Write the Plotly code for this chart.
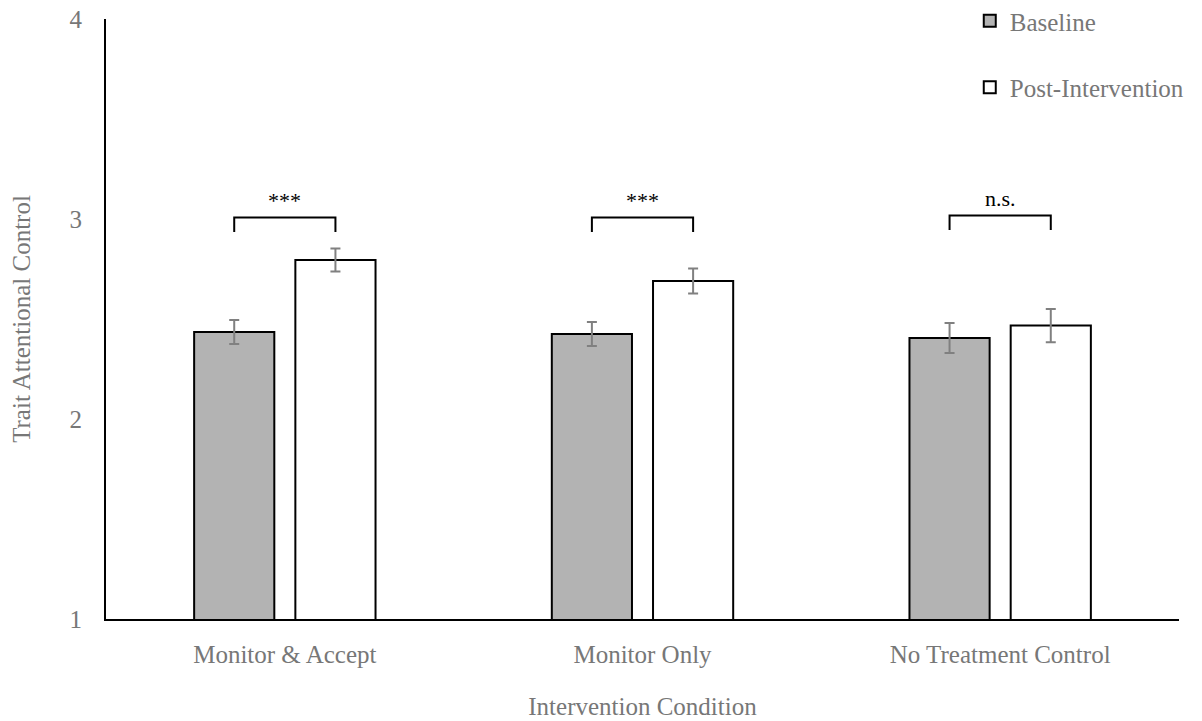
import plotly.graph_objects as go

categories = ["Monitor & Accept", "Monitor Only", "No Treatment Control"]
baseline = [2.435, 2.425, 2.405]
baseline_err = [0.06, 0.06, 0.075]
post = [2.795, 2.69, 2.467]
post_err = [0.058, 0.062, 0.083]
sig_labels = ["***", "***", "n.s."]
bracket_tops = [3.007, 3.007, 3.017]

FONT = "Liberation Serif, Times New Roman, serif"
GRAY = "#777777"

fig = go.Figure()
fig.add_trace(go.Bar(
    name="Baseline", x=categories, y=baseline, legendgroup="a",
    marker=dict(color="#b3b3b3", line=dict(color="black", width=2)),
    error_y=dict(type="data", array=baseline_err, color="#808080", thickness=2, width=5),
))
fig.add_trace(go.Bar(
    name="Post-Intervention", x=categories, y=post, legendgroup="b",
    marker=dict(color="white", line=dict(color="black", width=2)),
    error_y=dict(type="data", array=post_err, color="#808080", thickness=2, width=5),
))

bargap = 0.434
off = (1 - bargap) / 4
for i, (lab, top) in enumerate(zip(sig_labels, bracket_tops)):
    x0, x1 = i - off, i + off
    fig.add_shape(type="path", xref="x", yref="y",
                  path=f"M {x0},{top-0.072} L {x0},{top} L {x1},{top} L {x1},{top-0.072}",
                  line=dict(color="black", width=2))
    fig.add_annotation(x=i, y=top + 0.088, xref="x", yref="y", text=lab, showarrow=False,
                       font=dict(family=FONT, size=22, color="black"))

fig.update_layout(
    width=1202, height=721,
    margin=dict(l=106, r=23, t=19, b=102, autoexpand=False),
    paper_bgcolor="white", plot_bgcolor="white",
    barmode="group", bargap=bargap, bargroupgap=0.208,
    font=dict(family=FONT, size=25, color=GRAY),
    showlegend=True,
    legend=dict(x=0.805, xanchor="left", y=1.035, yanchor="top", traceorder="grouped",
                tracegroupgap=31, font=dict(family=FONT, size=25, color=GRAY),
                bgcolor="rgba(0,0,0,0)"),
    xaxis=dict(showline=True, linecolor="black", linewidth=2, ticks="outside",
               tickcolor="rgba(0,0,0,0)", ticklen=12, showgrid=False, automargin=False,
               title=dict(text="Intervention Condition", standoff=30,
                          font=dict(family=FONT, size=25, color=GRAY))),
    yaxis=dict(range=[1, 4], dtick=1, showline=True, linecolor="black", linewidth=2,
               ticks="outside", tickcolor="rgba(0,0,0,0)", ticklen=17, showgrid=False,
               zeroline=False, automargin=False, ticklabeloverflow="allow",
               title=dict(text="Trait Attentional Control", standoff=32,
                          font=dict(family=FONT, size=25, color=GRAY))),
)

# remove the default 8px page margin so the figure fills the window exactly
fig.write_html("out.html", config={"displayModeBar": False},
               post_script="document.body.style.margin='0';")
